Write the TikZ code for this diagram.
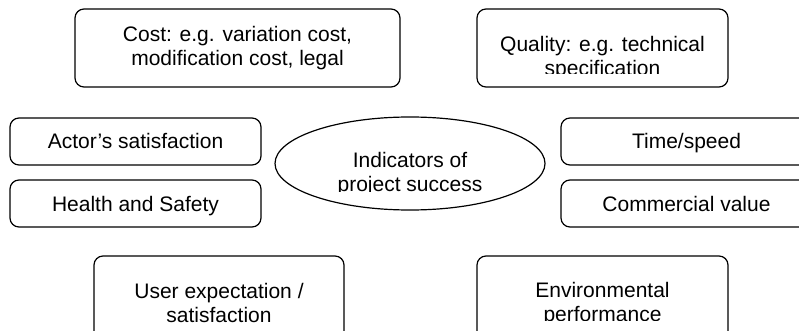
\documentclass[tikz,border=0pt]{standalone}
\usepackage{fontspec}
\setmainfont{Liberation Sans}
\usetikzlibrary{shapes.geometric}

\tikzset{
  indbox/.style={draw, rounded corners=9pt, line width=1.2pt,
        minimum width=251pt, minimum height=47pt,
        inner sep=0pt, align=center,
        font=\fontsize{21}{24}\selectfont},
  oneline/.style={text height=15pt, text depth=0pt},
  indtext/.style={inner sep=0pt, align=center,
        font=\fontsize{21}{24}\selectfont}
}

\begin{document}
\begin{tikzpicture}[x=1pt,y=-1pt]
  \useasboundingbox (0,0) rectangle (799,331);
  \clip (0,0) rectangle (799,331);

  % the centre
  \node[ellipse, draw, line width=1.2pt, inner sep=0pt,
        minimum width=270pt, minimum height=93pt] (ind) at (410,163.5) {};

  % top row
  \node[indbox, minimum width=325pt, minimum height=78pt] (cost) at (237.5,48)
       {Cost: e.g. variation cost,\\modification cost, legal};
  \node[indbox, minimum height=78pt] (qual) at (602.5,48) {};

  % left and right pairs
  \node[indbox, oneline] (actor)  at (135.5,141.5) {Actor's satisfaction};
  \node[indbox, oneline] (health) at (135.5,203.5) {Health and Safety};
  \node[indbox, oneline] (time)   at (686.5,141.5) {Time/speed};
  \node[indbox, oneline] (comm)   at (686.5,203.5) {Commercial value};

  % bottom row, cut off by the page
  \node[indbox, minimum width=250pt, minimum height=94pt] (user) at (219,303)
       {User expectation /\\satisfaction};
  \node[indbox, minimum height=94pt] (env) at (602.5,303) {};

  % texts that run past the bottom of their frame
  \begin{scope}
    \clip (qual.north west) rectangle ([yshift=14pt]qual.south east);
    \node[indtext, anchor=north] at ([yshift=-27.5pt]qual.north)
         {Quality: e.g. technical\\specification};
  \end{scope}
  \begin{scope}
    \clip (ind.west |- ind.north) rectangle ([yshift=19.5pt]ind.south -| ind.east);
    \node[indtext, anchor=north] at ([yshift=-36pt]ind.north)
         {Indicators of\\project success};
  \end{scope}
  \begin{scope}
    \clip (env.north west) rectangle ([yshift=-65pt]env.north east);
    \node[indtext, anchor=north] at ([yshift=-27pt]env.north)
         {Environmental\\performance};
  \end{scope}
\end{tikzpicture}
\end{document}
